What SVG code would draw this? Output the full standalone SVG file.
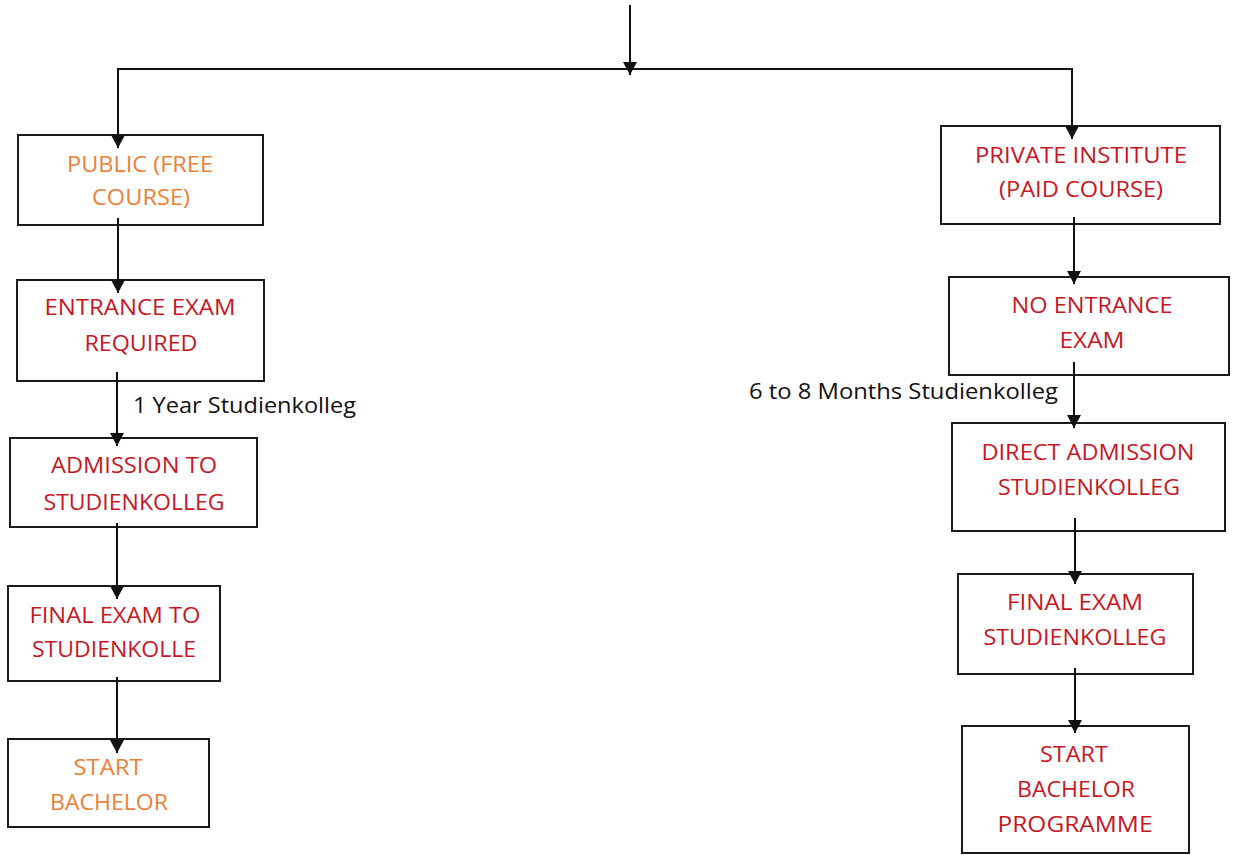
<svg xmlns="http://www.w3.org/2000/svg" width="1233" height="855" viewBox="0 0 1233 855">
<style>
.box{fill:#fff;stroke:#1a1a1a;stroke-width:2}
.t{font-family:"Open Sans","Liberation Sans",sans-serif;font-size:22px}
.red{fill:#C8161F}
.org{fill:#EB8036}
.lbl{fill:#111}
.c{fill:none;stroke:#111;stroke-width:2}
</style>
<defs>
<marker id="ah" viewBox="0 0 13 14" refX="13" refY="7" markerWidth="13" markerHeight="14" markerUnits="userSpaceOnUse" orient="auto">
<path d="M0,0 L13,7 L0,14 z" fill="#111"/>
</marker>
</defs>
<rect width="1233" height="855" fill="#fff"/>
<g id="public">
<rect class="box" x="18" y="135" width="245" height="90"/>
<text class="t org" x="140" y="172" text-anchor="middle" textLength="146" lengthAdjust="spacingAndGlyphs">PUBLIC (FREE</text>
<text class="t org" x="141" y="205" text-anchor="middle" textLength="98" lengthAdjust="spacingAndGlyphs">COURSE)</text>
</g>
<g id="entrance">
<rect class="box" x="17" y="280" width="247" height="101"/>
<text class="t red" x="140" y="315" text-anchor="middle" textLength="191" lengthAdjust="spacingAndGlyphs">ENTRANCE EXAM</text>
<text class="t red" x="141" y="351" text-anchor="middle" textLength="113" lengthAdjust="spacingAndGlyphs">REQUIRED</text>
</g>
<g id="label-1year">
<text class="t lbl" x="133" y="413" textLength="223" lengthAdjust="spacingAndGlyphs">1 Year Studienkolleg</text>
</g>
<g id="admission">
<rect class="box" x="10" y="438" width="247" height="89"/>
<text class="t red" x="134" y="473" text-anchor="middle" textLength="166" lengthAdjust="spacingAndGlyphs">ADMISSION TO</text>
<text class="t red" x="134" y="510" text-anchor="middle" textLength="181" lengthAdjust="spacingAndGlyphs">STUDIENKOLLEG</text>
</g>
<g id="final-left">
<rect class="box" x="8" y="586" width="212" height="95"/>
<text class="t red" x="115" y="623" text-anchor="middle" textLength="171" lengthAdjust="spacingAndGlyphs">FINAL EXAM TO</text>
<text class="t red" x="114" y="657" text-anchor="middle" textLength="164" lengthAdjust="spacingAndGlyphs">STUDIENKOLLE</text>
</g>
<g id="start-left">
<rect class="box" x="8" y="739" width="201" height="88"/>
<text class="t org" x="108" y="775" text-anchor="middle" textLength="69" lengthAdjust="spacingAndGlyphs">START</text>
<text class="t org" x="109" y="810" text-anchor="middle" textLength="118" lengthAdjust="spacingAndGlyphs">BACHELOR</text>
</g>
<g id="private">
<rect class="box" x="941" y="126" width="279" height="98"/>
<text class="t red" x="1081" y="163" text-anchor="middle" textLength="212" lengthAdjust="spacingAndGlyphs">PRIVATE INSTITUTE</text>
<text class="t red" x="1081" y="197" text-anchor="middle" textLength="164" lengthAdjust="spacingAndGlyphs">(PAID COURSE)</text>
</g>
<g id="no-entrance">
<rect class="box" x="949" y="277" width="280" height="98"/>
<text class="t red" x="1092" y="313" text-anchor="middle" textLength="161" lengthAdjust="spacingAndGlyphs">NO ENTRANCE</text>
<text class="t red" x="1092" y="348" text-anchor="middle" textLength="65" lengthAdjust="spacingAndGlyphs">EXAM</text>
</g>
<g id="label-6to8">
<text class="t lbl" x="749" y="399" textLength="309" lengthAdjust="spacingAndGlyphs">6 to 8 Months Studienkolleg</text>
</g>
<g id="direct-admission">
<rect class="box" x="952" y="423" width="273" height="108"/>
<text class="t red" x="1088" y="460" text-anchor="middle" textLength="213" lengthAdjust="spacingAndGlyphs">DIRECT ADMISSION</text>
<text class="t red" x="1089" y="495" text-anchor="middle" textLength="182" lengthAdjust="spacingAndGlyphs">STUDIENKOLLEG</text>
</g>
<g id="final-right">
<rect class="box" x="958" y="574" width="235" height="100"/>
<text class="t red" x="1075" y="610" text-anchor="middle" textLength="136" lengthAdjust="spacingAndGlyphs">FINAL EXAM</text>
<text class="t red" x="1075" y="645" text-anchor="middle" textLength="183" lengthAdjust="spacingAndGlyphs">STUDIENKOLLEG</text>
</g>
<g id="start-right">
<rect class="box" x="962" y="726" width="227" height="127"/>
<text class="t red" x="1074" y="762" text-anchor="middle" textLength="68" lengthAdjust="spacingAndGlyphs">START</text>
<text class="t red" x="1076" y="797" text-anchor="middle" textLength="118" lengthAdjust="spacingAndGlyphs">BACHELOR</text>
<text class="t red" x="1075" y="832" text-anchor="middle" textLength="155" lengthAdjust="spacingAndGlyphs">PROGRAMME</text>
</g>
<g id="connectors">
<line class="c" x1="630" y1="5" x2="630" y2="75" marker-end="url(#ah)"/>
<line class="c" x1="117" y1="69" x2="1073" y2="69"/>
<line class="c" x1="118" y1="69" x2="118" y2="148" marker-end="url(#ah)"/>
<line class="c" x1="1072" y1="69" x2="1072" y2="139" marker-end="url(#ah)"/>
<line class="c" x1="118" y1="218" x2="118" y2="293" marker-end="url(#ah)"/>
<line class="c" x1="117" y1="372" x2="117" y2="446" marker-end="url(#ah)"/>
<line class="c" x1="117" y1="523" x2="117" y2="599" marker-end="url(#ah)"/>
<line class="c" x1="117" y1="677" x2="117" y2="753" marker-end="url(#ah)"/>
<line class="c" x1="1074" y1="217" x2="1074" y2="284" marker-end="url(#ah)"/>
<line class="c" x1="1074" y1="362" x2="1074" y2="428" marker-end="url(#ah)"/>
<line class="c" x1="1075" y1="518" x2="1075" y2="584" marker-end="url(#ah)"/>
<line class="c" x1="1075" y1="668" x2="1075" y2="733" marker-end="url(#ah)"/>
</g>
</svg>
